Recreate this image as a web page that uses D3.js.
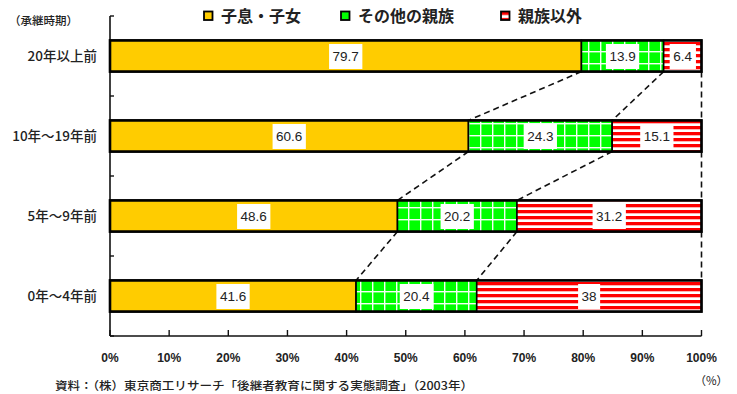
<!DOCTYPE html>
<html><head><meta charset="utf-8">
<script src="https://cdn.jsdelivr.net/npm/d3@7"></script>
<style>
html,body{margin:0;padding:0;background:#fff;}
svg{display:block;}
text{font-family:"Noto Sans CJK JP","Liberation Sans",sans-serif;fill:#222;}
.num{font-family:"Liberation Sans",Arial,sans-serif;}
</style></head>
<body>
<script>
const categories = ["20年以上前", "10年～19年前", "5年～9年前", "0年～4年前"];
const seriesNames = ["子息・子女", "その他の親族", "親族以外"];
const children = [79.7, 60.6, 48.6, 41.6];
const otherRelatives = [13.9, 24.3, 20.2, 20.4];
const nonRelatives = [6.4, 15.1, 31.2, 38];
const xTicks = [0,10,20,30,40,50,60,70,80,90,100];
const axisTitle = "（承継時期）";
const unitLabel = "（%）";
const sourceNote = "資料：（株）東京商工リサーチ「後継者教育に関する実態調査」（2003年）";

const W = 737, H = 394;
const svg = d3.select("body").append("svg").attr("width", W).attr("height", H);

const defs = svg.append("defs");
const pg = defs.append("pattern").attr("id","pGreen").attr("patternUnits","userSpaceOnUse")
  .attr("width",12).attr("height",12).attr("x",0).attr("y",3);
pg.append("rect").attr("width",12).attr("height",12).attr("fill","#00ff00");
pg.append("rect").attr("x",0).attr("y",0).attr("width",1.4).attr("height",12).attr("fill","#f4fff4");
pg.append("rect").attr("x",0).attr("y",0).attr("width",12).attr("height",1.4).attr("fill","#f4fff4");
const pr = defs.append("pattern").attr("id","pRed").attr("patternUnits","userSpaceOnUse")
  .attr("width",8).attr("height",6);
pr.append("rect").attr("width",8).attr("height",6).attr("fill","#ffffff");
pr.append("rect").attr("y",0).attr("width",8).attr("height",3.3).attr("fill","#ff0000");
const prl = defs.append("pattern").attr("id","pRedL").attr("patternUnits","objectBoundingBox")
  .attr("width",1).attr("height",1);
prl.append("rect").attr("width",10).attr("height",10).attr("fill","#ff0000");
prl.append("rect").attr("y",3.5).attr("width",10).attr("height",3).attr("fill","#ffffff");

const fills = ["#ffcc00", "url(#pGreen)", "url(#pRed)"];
const legendFills = ["#ffcc00", "#00ff00", "url(#pRedL)"];

const x = d3.scaleLinear().domain([0,100]).range([110, 701.5]);
const y = d3.scaleBand().domain(categories).range([16, 336]).paddingInner(0.61).paddingOuter(0.305);
const yb = d3.scaleBand().domain(categories).range([16, 336]).padding(0);

const rows = categories.map((c,i) => {
  const vals = [children[i], otherRelatives[i], nonRelatives[i]];
  let acc = 0;
  return {cat:c, segs: vals.map((v,k) => { const s = {k, v, x0: acc, x1: acc + v}; acc += v; return s; })};
});

// axes
const ax = svg.append("g");
ax.append("line").attr("x1",x(0)).attr("x2",x(0)).attr("y1",yb.range()[0]).attr("y2",yb.range()[1])
  .attr("stroke","#111").attr("stroke-width",1.6);
ax.append("line").attr("x1",x(0)).attr("x2",x(100)).attr("y1",yb.range()[1]).attr("y2",yb.range()[1])
  .attr("stroke","#111").attr("stroke-width",1.6);
const bounds = categories.map(c => yb(c)).concat([yb.range()[1]]);
ax.selectAll(".lt").data(bounds).join("line")
  .attr("x1",x(0)).attr("x2",x(0)+4).attr("y1",d=>d).attr("y2",d=>d)
  .attr("stroke","#111").attr("stroke-width",1.4);
ax.selectAll(".bt").data(xTicks).join("line")
  .attr("x1",d=>x(d)).attr("x2",d=>x(d)).attr("y1",yb.range()[1]-6).attr("y2",yb.range()[1])
  .attr("stroke","#111").attr("stroke-width",1.4);
ax.selectAll(".btl").data(xTicks).join("text").attr("class","num")
  .attr("x",d=>x(d)).attr("y",362).attr("text-anchor","middle")
  .attr("font-size",12).attr("font-weight","bold").attr("fill","#333").text(d=>d+"%");

// category labels
svg.selectAll(".cl").data(categories).join("text")
  .attr("x",97).attr("y",d=>y(d)+y.bandwidth()/2+5).attr("text-anchor","end")
  .attr("font-size",13.5).attr("font-weight","500").text(d=>d);
svg.append("text").attr("x",9).attr("y",25).attr("font-size",11.5).attr("font-weight","500").text(axisTitle);

// connectors
const conn = svg.append("g").attr("stroke","#111").attr("stroke-width",1.6).attr("stroke-dasharray","6,4").attr("fill","none");
for (let i=0;i<rows.length-1;i++){
  const a = rows[i], b = rows[i+1];
  const ya = y(a.cat)+y.bandwidth(), yb2 = y(b.cat);
  [0,1].forEach(k => {
    conn.append("line").attr("x1",x(a.segs[k].x1)).attr("y1",ya).attr("x2",x(b.segs[k].x1)).attr("y2",yb2);
  });
  conn.append("line").attr("x1",x(100)).attr("y1",ya).attr("x2",x(100)).attr("y2",yb2);
}

// bars
const bars = svg.selectAll(".row").data(rows).join("g");
bars.selectAll("rect.seg").data(d => d.segs.map(s => ({...s, cat:d.cat}))).join("rect")
  .attr("x",d=>x(d.x0)).attr("width",d=>x(d.x1)-x(d.x0))
  .attr("y",d=>y(d.cat)).attr("height",y.bandwidth())
  .attr("fill",d=>fills[d.k]).attr("stroke","#000").attr("stroke-width",1.6);
bars.append("rect").attr("x",x(0)).attr("width",x(100)-x(0))
  .attr("y",d=>y(d.cat)).attr("height",y.bandwidth())
  .attr("fill","none").attr("stroke","#000").attr("stroke-width",2.6);

// value labels
bars.each(function(d){
  const g = d3.select(this);
  d.segs.forEach(s => {
    const cx = x((s.x0+s.x1)/2), cy = y(d.cat)+y.bandwidth()/2;
    const t = g.append("text").attr("class","num").attr("x",cx).attr("y",cy+5)
      .attr("text-anchor","middle").attr("font-size",13.5).attr("fill","#222").text(s.v);
    const bb = t.node().getBBox();
    g.insert("rect", () => t.node()).attr("x",bb.x-3.5).attr("width",bb.width+7)
      .attr("y",cy-12).attr("height",25).attr("fill","#fff");
  });
});

// legend
const lg = svg.append("g");
const lx = [203, 340, 500];
seriesNames.forEach((n,i) => {
  lg.append("rect").attr("x",lx[i]+1).attr("y",11.5).attr("width",8.5).attr("height",8.5)
    .attr("fill",legendFills[i]).attr("stroke","#000").attr("stroke-width",1.8);
  lg.append("text").attr("x",lx[i]+18).attr("y",22).attr("font-size",16).attr("font-weight","bold")
    .attr("fill","#333").text(n);
});

// footer
svg.append("text").attr("x",55).attr("y",390).attr("font-size",11.5).attr("font-weight","500")
  .attr("textLength",418).attr("lengthAdjust","spacingAndGlyphs").text(sourceNote);
svg.append("text").attr("x",728).attr("y",385).attr("text-anchor","end").attr("font-size",11.5).text(unitLabel);
</script>
</body></html>
